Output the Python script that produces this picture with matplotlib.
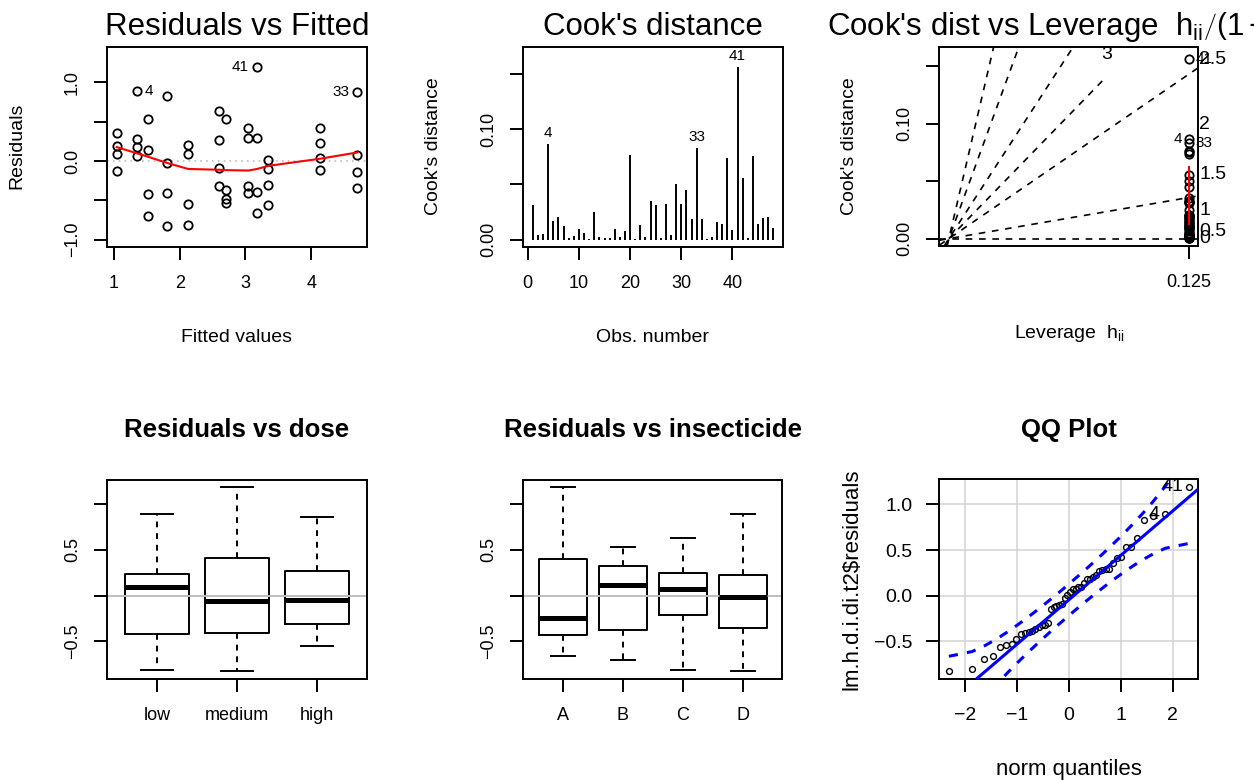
import statistics

import numpy as np
import matplotlib
matplotlib.use("Agg")
import matplotlib.pyplot as plt

plt.rcParams["font.family"] = ["Liberation Sans", "DejaVu Sans"]
plt.rcParams["mathtext.fontset"] = "custom"
plt.rcParams["mathtext.rm"] = "Liberation Sans"
plt.rcParams["mathtext.it"] = "Liberation Sans"

# ---- data ----
# fitted values of the 12 dose x insecticide cells, 4 residuals each
fit_levels = [1.041, 1.346, 1.519, 1.813, 2.129, 2.596,
              2.708, 3.044, 3.176, 3.349, 4.132, 4.701]
resid_groups = [
    [0.356, 0.186, 0.093, -0.127],
    [0.890, 0.280, 0.178, 0.068],
    [0.534, 0.136, -0.424, -0.700],
    [0.830, -0.025, -0.400, -0.830],
    [0.203, 0.093, -0.540, -0.810],
    [0.636, 0.270, -0.093, -0.320],
    [0.534, -0.370, -0.480, -0.530],
    [0.415, 0.297, -0.320, -0.410],
    [1.195, 0.288, -0.390, -0.660],
    [0.008, -0.100, -0.305, -0.560],
    [0.424, 0.229, 0.042, -0.119],
    [0.873, 0.076, -0.144, -0.339],
]
smooth_fit = [0.178, 0.100, 0.055, -0.025, -0.100, -0.110,
              -0.115, -0.120, -0.100, -0.060, 0.030, 0.110]
# labelled points: (fitted, residual, label, side)
fit_ids = [(1.346, 0.890, "4", "right"), (3.176, 1.195, "41", "left"),
           (4.701, 0.873, "33", "left")]

# Cook's distance by observation number
cook = [0.0316, 0.0042, 0.0051, 0.0867, 0.0172, 0.0202, 0.0120, 0.0018,
        0.0030, 0.0099, 0.0063, 0.0006, 0.0253, 0.0024, 0.0015, 0.0015,
        0.0093, 0.0024, 0.0081, 0.0765, 0.0009, 0.0130, 0.0021, 0.0349,
        0.0313, 0.0018, 0.0325, 0.0042, 0.0500, 0.0319, 0.0449, 0.0184,
        0.0828, 0.0190, 0.0006, 0.0021, 0.0160, 0.0141, 0.0735, 0.0090,
        0.1560, 0.0554, 0.0015, 0.0756, 0.0141, 0.0193, 0.0205, 0.0108]
cook_ids = [4, 33, 41]

leverage = 0.125
n_coef = 6
cook_levels = [0, 0.5, 1, 1.5, 2, 2.5, 3]
cook_smooth = [0.0125, 0.062]
lev_ids = [(41, "right"), (4, "left"), (33, "right")]

dose_labels = ["low", "medium", "high"]
dose_med = [0.098, -0.054, -0.050]
dose_q1 = [-0.416, -0.409, -0.315]
dose_q3 = [0.236, 0.406, 0.265]
dose_lo = [-0.806, -0.826, -0.550]
dose_hi = [0.885, 1.180, 0.859]

ins_labels = ["A", "B", "C", "D"]
ins_med = [-0.242, 0.113, 0.069, -0.020]
ins_q1 = [-0.427, -0.370, -0.217, -0.348]
ins_q3 = [0.402, 0.323, 0.243, 0.225]
ins_lo = [-0.663, -0.699, -0.808, -0.826]
ins_hi = [1.180, 0.529, 0.630, 0.885]

qq_ids = [(1, "41"), (2, "4")]   # rank from the top

# ---- layout helpers (pixel coordinates of the reference) ----
W, H = 1254, 780
LW = 1.4
TICK_FS = 13
LAB_FS = 14
TITLE_FS = 22.5
SUB_FS = 18.5


def rect(l, t, r, b):
    return [l / W, 1 - b / H, (r - l) / W, (b - t) / H]


def ftext(x, y, s, **kw):
    kw.setdefault("ha", "center")
    kw.setdefault("va", "center")
    fig.text(x / W, 1 - y / H, s, **kw)


def rpad(lo, hi, f=0.04):
    d = (hi - lo) * f
    return lo - d, hi + d


def style(ax, rot_y=True):
    for s in ax.spines.values():
        s.set_linewidth(LW)
    ax.tick_params(direction="out", length=9.5, width=LW, labelsize=TICK_FS)
    ax.tick_params(axis="x", pad=17)
    if rot_y:
        ax.tick_params(axis="y", pad=15.5)
        for t in ax.get_yticklabels():
            t.set_rotation(90)
            t.set_ha("center")
            t.set_va("center")
    for t in ax.get_xticklabels():
        t.set_va("center")


fig = plt.figure(figsize=(W / 100, H / 100), dpi=100)

# ---- Residuals vs Fitted ----
ax = fig.add_axes(rect(107, 47, 367, 246.5))
fx = np.repeat(fit_levels, 4)
ry = np.concatenate(resid_groups)
ax.axhline(0, color="#bebebe", lw=1.2, ls=(0, (1, 2.5)))
ax.plot(fx, ry, "o", ms=6, mfc="none", mec="black", mew=1.3)
ax.plot(fit_levels, smooth_fit, color="red", lw=1.5)
for x, y, s, side in fit_ids:
    off = 6 if side == "right" else -6
    ax.annotate(s, (x, y), xytext=(off, 0), textcoords="offset points",
                ha="left" if side == "right" else "right", va="center",
                fontsize=11)
lo, hi = min(ry), max(ry)
ext = (hi - lo) * 0.08
ax.set_ylim(*rpad(lo - ext, hi + ext))
ax.set_xlim(*rpad(min(fx), max(fx)))
ax.set_xticks([1, 2, 3, 4])
ax.set_yticks([-1, -0.5, 0, 0.5, 1], ["\u22121.0", "", "0.0", "", "1.0"])
style(ax)
ftext(237, 27, "Residuals vs Fitted", fontsize=TITLE_FS)
ftext(237, 337, "Fitted values", fontsize=LAB_FS)
ftext(17, 146, "Residuals", fontsize=LAB_FS, rotation=90)

# ---- Cook's distance ----
ax = fig.add_axes(rect(523.3, 47, 783, 247))
obs = np.arange(1, len(cook) + 1)
ax.vlines(obs, 0, cook, color="black", lw=LW)
for i in cook_ids:
    ax.annotate(str(i), (i, cook[i - 1]), xytext=(0, 3),
                textcoords="offset points", ha="center", va="bottom",
                fontsize=11)
ax.set_xlim(*rpad(1, len(cook)))
ax.set_ylim(*rpad(0, max(cook) * 1.075))
ax.set_xticks([0, 10, 20, 30, 40])
ax.set_yticks([0, 0.05, 0.10, 0.15], ["0.00", "", "0.10", ""])
style(ax)
ftext(653, 27, "Cook's distance", fontsize=TITLE_FS)
ftext(653, 337, "Obs. number", fontsize=LAB_FS)
ftext(433, 146, "Cook's distance", fontsize=LAB_FS, rotation=90)

# ---- Cook's dist vs Leverage ----
ax = fig.add_axes(rect(939.3, 47.3, 1198.3, 246))
g = leverage / (1 - leverage)
xl = rpad(0, g)
ymx = max(cook) * 1.025
yl = rpad(0, ymx)
ax.set_xlim(*xl)
ax.set_ylim(*yl)
strh = 19.5 / 199 * (yl[1] - yl[0])
xr = xl[1] + 0.004 * (xl[1] - xl[0])
for b in cook_levels:
    b2 = b ** 2
    if n_coef * yl[1] > b2 * xl[1]:
        ax.axline((0, 0), slope=b2, color="black", lw=1.2, ls=(0, (4, 4)))
        ax.text(xr, b2 * xr / n_coef, f"{b:g}", ha="left", va="center",
                fontsize=TICK_FS + 1, clip_on=False)
    else:
        yi = yl[1] - 1.5 * strh
        xi = n_coef * yi / b2
        ax.plot([0, xi], [0, yi], color="black", lw=1.2, ls=(0, (4, 4)))
        ax.text(xi, yl[1] - 0.8 * strh, f"{b:g}", ha="center", va="bottom",
                fontsize=TICK_FS + 1)
ax.plot(np.full(len(cook), g), cook, "o", ms=6, mfc="none", mec="black",
        mew=1.3, clip_on=False)
ax.plot([g, g], cook_smooth, color="red", lw=1.5)
for i, side in lev_ids:
    off = 5 if side == "right" else -5
    ax.annotate(str(i), (g, cook[i - 1]), xytext=(off, 0),
                textcoords="offset points",
                ha="left" if side == "right" else "right", va="center",
                fontsize=11, annotation_clip=False)
ax.set_xticks([g], [f"{leverage:g}"])
ax.set_yticks([0, 0.05, 0.10, 0.15], ["0.00", "", "0.10", ""])
style(ax)
ftext(1069, 27,
      r"Cook's dist vs Leverage  $\mathrm{h}_{\mathrm{ii}}\left/\left(1-\mathrm{h}_{\mathrm{ii}}\right)\right.$",
      fontsize=TITLE_FS)
ftext(1069, 333, r"Leverage  $\mathrm{h}_{\mathrm{ii}}$", fontsize=LAB_FS)
ftext(850, 146, "Cook's distance", fontsize=LAB_FS, rotation=90)


# ---- boxplots ----
def box_panel(rect_px, labels, med, q1, q3, lo, hi, title):
    ax = fig.add_axes(rect(*rect_px))
    stats = [dict(med=m, q1=a, q3=b, whislo=w0, whishi=w1, label=lab)
             for lab, m, a, b, w0, w1 in zip(labels, med, q1, q3, lo, hi)]
    ax.bxp(stats, widths=0.8, showfliers=False,
           boxprops=dict(lw=LW, color="black"),
           whiskerprops=dict(lw=LW, color="black", ls=(0, (3, 3))),
           capprops=dict(lw=LW, color="black"),
           medianprops=dict(lw=3.6, color="black", solid_capstyle="butt"),
           capwidths=0.4)
    ax.axhline(0, color="#bebebe", lw=1.4)
    ax.set_xlim(*rpad(0.5, len(labels) + 0.5))
    ax.set_ylim(*rpad(min(lo), max(hi)))
    ax.set_yticks([-0.5, 0, 0.5, 1.0], ["\u22120.5", "", "0.5", ""])
    style(ax)
    cx = (rect_px[0] + rect_px[2]) / 2
    ftext(cx, 430, title, fontsize=SUB_FS, fontweight="bold")
    return ax


box_panel((107.3, 480, 366.7, 678.7), dose_labels, dose_med, dose_q1,
          dose_q3, dose_lo, dose_hi, "Residuals vs dose")
box_panel((523.3, 480, 782.3, 678.7), ins_labels, ins_med, ins_q1,
          ins_q3, ins_lo, ins_hi, "Residuals vs insecticide")

# ---- QQ plot ----
ax = fig.add_axes(rect(939.3, 479.3, 1198.3, 678.7))
res = np.sort(ry)
n = len(res)
nd = statistics.NormalDist()
pp = (np.arange(1, n + 1) - 0.5) / n
z = np.array([nd.inv_cdf(p) for p in pp])
qx = np.quantile(res, [0.25, 0.75])
qz = np.array([nd.inv_cdf(0.25), nd.inv_cdf(0.75)])
slope = (qx[1] - qx[0]) / (qz[1] - qz[0])
icpt = qx[0] - slope * qz[0]
se = slope / np.array([nd.pdf(v) for v in z]) * np.sqrt(pp * (1 - pp) / n)
fitv = icpt + slope * z
ax.set_xlim(*rpad(z.min(), z.max()))
ax.set_ylim(*rpad(res.min(), res.max()))
ax.set_xticks([-2, -1, 0, 1, 2], ["\u22122", "\u22121", "0", "1", "2"])
ax.set_yticks([-0.5, 0, 0.5, 1.0], ["\u22120.5", "0.0", "0.5", "1.0"])
ax.grid(True, color="#d3d3d3", lw=1.1)
ax.set_axisbelow(True)
ax.plot(z, res, "o", ms=4.2, mfc="none", mec="black", mew=1.0, zorder=3)
ax.axline((0, icpt), slope=slope, color="blue", lw=2.2, zorder=4)
ax.plot(z, fitv + 1.96 * se, color="blue", lw=2.2, ls=(0, (3, 3)), zorder=4)
ax.plot(z, fitv - 1.96 * se, color="blue", lw=2.2, ls=(0, (3, 3)), zorder=4)
for k, s in qq_ids:
    ax.annotate(s, (z[-k], res[-k]), xytext=(-4, 0), textcoords="offset points",
                ha="right", va="center", fontsize=14, zorder=5)
style(ax, rot_y=False)
ax.tick_params(axis="y", pad=10)
ax.tick_params(axis="both", labelsize=TICK_FS + 1)
ftext(1069, 430, "QQ Plot", fontsize=SUB_FS, fontweight="bold")
ftext(1069, 769, "norm quantiles", fontsize=16)
ftext(852, 579, "lm.h.d.i.di.t2\\$residuals", fontsize=16, rotation=90)

fig.savefig("out.png", dpi=100)
